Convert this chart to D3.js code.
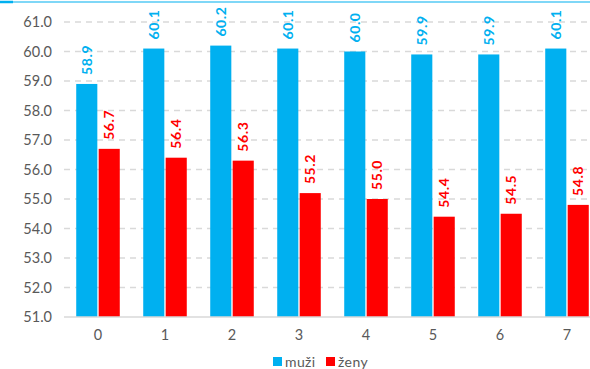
<!DOCTYPE html>
<html>
<head>
<meta charset="utf-8">
<script src="https://cdn.jsdelivr.net/npm/d3@7"></script>
<style>
  body { margin: 0; background: #fff; }
  svg { display: block; font-family: Lato, "Open Sans", sans-serif; }
</style>
</head>
<body>
<div id="chart"></div>
<script>
const categories = ['0', '1', '2', '3', '4', '5', '6', '7'];
const seriesNames = ['muži', 'ženy'];
const muzi = [58.9, 60.1, 60.2, 60.1, 60.0, 59.9, 59.9, 60.1];
const zeny = [56.7, 56.4, 56.3, 55.2, 55.0, 54.4, 54.5, 54.8];
const yTicks = [51, 52, 53, 54, 55, 56, 57, 58, 59, 60, 61];

const colors = { 'muži': '#00b0f0', 'ženy': '#ff0000' };
const width = 590, height = 369;

const data = categories.map((c, i) => ({ cat: c, values: [
    { key: 'muži', value: muzi[i] },
    { key: 'ženy', value: zeny[i] }
] }));

let svg = d3.select('#chart').append('svg')
    .attr('width', width)
    .attr('height', height);

// thin border line at the top (cropped frame)
svg.append('line')
    .attr('x1', 0).attr('x2', width).attr('y1', 2).attr('y2', 2)
    .attr('stroke', '#00b0f0').attr('stroke-width', 1.2);
svg.append('line')
    .attr('x1', 0).attr('x2', 13).attr('y1', 2).attr('y2', 2)
    .attr('stroke', '#00b0f0').attr('stroke-width', 2.5);

let x = d3.scaleBand().domain(categories).range([64.5, 600.5]).paddingInner(0.35).paddingOuter(0.175);
let xs = d3.scaleBand().domain(seriesNames).range([0, x.bandwidth()]).paddingInner(0.06);
let y = d3.scaleLinear().domain([51, 61]).range([317, 22]);

// y axis with dashed gridlines
let yAxis = d3.axisLeft(y)
    .tickValues(yTicks)
    .tickFormat(d3.format('.1f'))
    .tickSize(0)
    .tickPadding(0);

let gy = svg.append('g')
    .attr('transform', 'translate(52,0)')
    .call(yAxis);
gy.select('.domain').remove();
gy.selectAll('text')
    .attr('fill', '#595959')
    .attr('font-size', 14.5)
    .attr('font-family', 'Lato, sans-serif');

svg.append('g').selectAll('line')
    .data(yTicks.filter(d => d > 51))
    .enter().append('line')
    .attr('x1', 64).attr('x2', width)
    .attr('y1', d => y(d)).attr('y2', d => y(d))
    .attr('stroke', '#d9d9d9')
    .attr('stroke-width', 1.3)
    .attr('stroke-dasharray', '6,5');

// bars
let groups = svg.append('g').selectAll('g')
    .data(data).enter().append('g')
    .attr('transform', d => 'translate(' + x(d.cat) + ',0)');

groups.selectAll('rect')
    .data(d => d.values).enter().append('rect')
    .attr('x', d => xs(d.key))
    .attr('y', d => y(d.value))
    .attr('width', xs.bandwidth())
    .attr('height', d => y(51) - y(d.value))
    .attr('fill', d => colors[d.key]);

groups.selectAll('text')
    .data(d => d.values).enter().append('text')
    .attr('transform', d => 'translate(' + (xs(d.key) + xs.bandwidth() / 2) + ',' + (y(d.value) - 9) + ') rotate(-90)')
    .attr('dy', '0.35em')
    .attr('text-anchor', 'start')
    .attr('font-size', 14)
    .attr('font-weight', 'bold')
    .attr('letter-spacing', 0.6)
    .attr('fill', d => colors[d.key])
    .text(d => d.value.toFixed(1));

// x axis
let xAxis = d3.axisBottom(x).tickSize(0).tickPadding(13);
let gx = svg.append('g')
    .attr('transform', 'translate(0,' + y(51) + ')')
    .call(xAxis);
gx.select('.domain')
    .attr('d', 'M64,0H' + width)
    .attr('stroke', '#d9d9d9')
    .attr('stroke-width', 1.5);
gx.selectAll('text')
    .attr('fill', '#595959')
    .attr('font-size', 14.5)
    .attr('font-family', 'Lato, sans-serif');

// legend
let legend = svg.append('g').attr('transform', 'translate(273,362)');
let legendX = [0, 53];
seriesNames.forEach((s, i) => {
    let g = legend.append('g').attr('transform', 'translate(' + legendX[i] + ',0)');
    g.append('rect')
        .attr('x', 0).attr('y', -5).attr('width', 9).attr('height', 9)
        .attr('fill', colors[s]);
    g.append('text')
        .attr('x', 12).attr('y', 0)
        .attr('dy', '0.35em')
        .attr('font-size', 14)
        .attr('letter-spacing', 0.4)
        .attr('fill', '#595959')
        .text(s);
});
</script>
</body>
</html>
